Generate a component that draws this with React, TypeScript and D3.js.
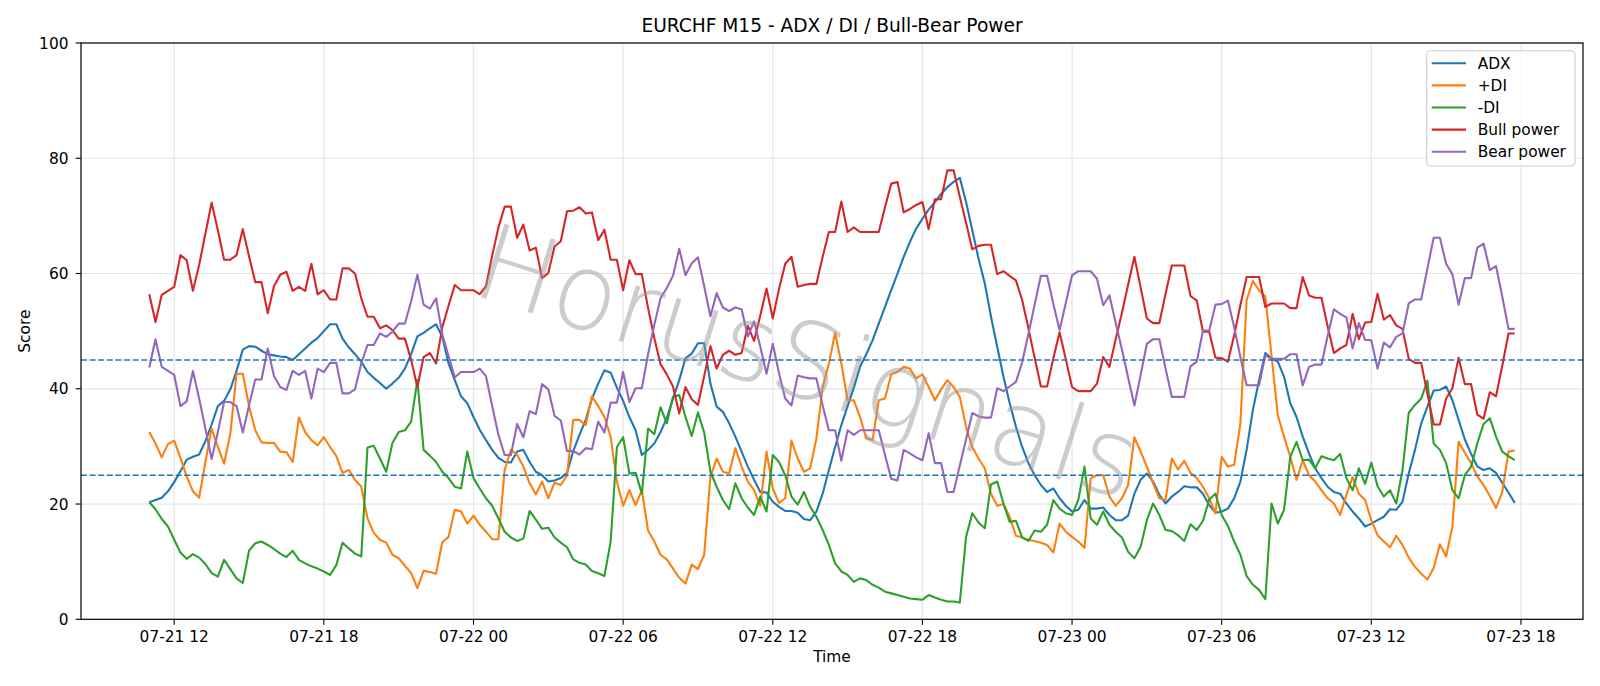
import React from 'react'
import * as d3 from 'd3'

// 15-minute bars, first bar 07-21 11:00
const START = Date.UTC(2025, 6, 21, 11, 0)
const STEP_MIN = 15

const ADX = [
  20.3, 20.7, 21.1, 22.2, 23.8, 25.7, 27.7, 28.2, 28.6, 30.9, 33.8, 37.0, 37.9, 39.9, 43.1, 46.8, 47.4, 47.3, 46.6, 46.0, 45.8, 45.6,
  45.5, 45.0, 46.0, 47.0, 48.0, 48.8, 50.0, 51.2, 51.2, 48.7, 47.2, 46.0, 44.7, 42.9, 41.9, 41.0, 40.0, 40.9, 41.9, 43.5, 46.0, 49.1, 49.7, 50.5, 51.2, 49.0, 44.4, 41.5, 38.7, 37.5, 35.1, 32.9, 31.1, 29.4, 28.0,
  27.3, 27.2, 29.1, 29.4, 27.3, 25.6, 25.0, 23.9, 24.1, 24.5, 25.4, 29.2, 32.0, 34.6, 38.3, 40.9, 43.2, 42.8, 40.2, 37.9, 35.1, 32.8, 28.5, 29.4, 30.5, 32.5, 34.9, 38.3, 41.5, 45.3, 46.1, 47.9, 47.9, 40.9, 36.9, 36.0,
  34.0, 31.7, 29.1, 26.5, 24.2, 22.1, 22.0, 20.4, 19.5, 18.8, 18.8, 18.5, 17.4, 17.2, 18.7, 21.8, 25.9, 29.9, 33.7, 37.0, 40.2, 43.8, 46.0, 48.4, 51.3, 54.2, 57.1, 60.0, 62.9, 65.5, 67.8, 69.5, 71.1, 72.4, 73.8, 75.0,
  75.9, 76.6, 72.4, 67.5, 62.6, 58.3, 52.5, 47.3, 42.1, 37.5, 33.4, 29.9, 27.1, 25.0, 23.3, 22.1, 22.7, 21.0, 19.7, 18.7, 19.0, 20.7, 19.2, 19.2, 19.4, 18.1, 17.2, 17.2, 18.0, 21.8, 24.2, 25.3, 23.9, 21.6, 20.1, 21.3,
  22.1, 23.1, 22.9, 22.9, 21.8, 19.8, 18.5, 18.7, 19.2, 21.0, 23.9, 29.4, 36.3, 41.5, 46.2, 45.3, 44.7, 42.1, 37.5, 35.1, 31.7, 28.8, 26.2, 24.5, 23.0, 22.1, 21.8, 20.1, 18.7, 17.5, 16.1, 16.6, 17.2, 17.8, 19.1, 19.0,
  20.4, 25.3, 29.4, 34.0, 36.9, 39.7, 39.8, 40.4, 38.0, 34.6, 31.2, 28.7, 26.5, 25.9, 26.2, 25.4, 23.7, 22.0, 20.2,
]

const PLUS_DI = [
  32.5, 30.5, 28.1, 30.4, 31.0, 28.0, 24.8, 22.2, 21.1, 27.3, 33.1, 29.9, 27.0, 32.2, 42.6, 42.6, 37.0, 32.8, 30.7, 30.6, 30.6, 29.1,
  29.0, 27.3, 35.0, 32.5, 31.1, 30.2, 31.6, 29.9, 28.3, 25.4, 25.9, 24.2, 23.0, 17.5, 15.0, 13.8, 13.3, 11.2, 10.6, 9.3, 8.0, 5.4, 8.4, 8.2, 7.9, 13.4, 14.3, 19.0, 18.7, 16.6, 18.0, 16.4, 15.2, 13.9, 13.9,
  25.9, 29.4, 28.5, 26.5, 23.6, 21.7, 23.9, 21.0, 23.7, 23.3, 25.0, 34.6, 34.6, 33.7, 38.7, 37.0, 35.1, 31.7, 23.9, 19.7, 22.4, 19.8, 22.4, 15.4, 13.5, 11.2, 10.4, 8.8, 7.2, 6.2, 9.5, 8.7, 11.2, 24.7, 27.9, 25.6,
  25.3, 29.7, 26.5, 23.9, 22.4, 19.7, 29.1, 22.7, 20.2, 21.0, 31.0, 27.9, 25.6, 26.2, 31.4, 40.3, 44.4, 49.7, 44.4, 38.0, 38.0, 35.1, 31.4, 31.1, 38.0, 38.3, 42.5, 42.9, 43.8, 43.5, 41.8, 42.5, 40.3, 38.0, 39.9, 41.5,
  40.3, 38.6, 33.4, 29.9, 27.9, 26.2, 21.8, 19.7, 20.0, 17.8, 14.5, 14.2, 13.8, 13.6, 13.3, 12.9, 11.6, 16.6, 15.2, 14.3, 13.5, 12.4, 24.5, 25.0, 25.0, 21.3, 19.7, 21.0, 23.3, 31.6, 29.1, 26.5, 23.6, 21.0, 20.7, 27.9,
  26.0, 27.5, 25.4, 24.5, 23.0, 21.0, 18.4, 28.2, 26.5, 26.8, 34.0, 55.4, 58.7, 57.1, 56.0, 45.7, 35.4, 31.7, 28.2, 24.2, 27.6, 25.0, 23.9, 22.4, 21.0, 20.1, 18.1, 21.6, 24.7, 21.8, 20.7, 17.2, 14.6, 13.5, 12.5, 14.5,
  12.9, 10.7, 9.1, 7.9, 6.9, 8.9, 13.0, 10.9, 16.1, 30.8, 28.9, 27.1, 24.8, 23.3, 21.4, 19.3, 22.1, 29.1, 29.3,
]

const MINUS_DI = [
  20.3, 19.1, 17.4, 16.1, 13.8, 11.6, 10.5, 11.3, 10.7, 9.6, 8.0, 7.4, 10.3, 8.7, 7.1, 6.3, 11.9, 13.2, 13.5, 12.9, 12.2, 11.4,
  10.8, 11.9, 10.3, 9.7, 9.2, 8.8, 8.3, 7.7, 9.4, 13.3, 12.3, 11.4, 10.9, 29.8, 30.1, 27.9, 25.6, 30.6, 32.5, 32.8, 34.3, 41.5, 29.4, 28.4, 27.3, 25.6, 24.5, 23.0, 22.7, 29.1, 24.5, 22.7, 21.0, 19.7, 17.5,
  15.2, 14.2, 13.6, 14.0, 18.8, 17.3, 15.7, 15.9, 14.2, 13.3, 12.5, 10.4, 9.8, 9.5, 8.4, 8.0, 7.5, 13.5, 29.9, 31.6, 25.3, 25.4, 21.8, 33.1, 32.1, 36.8, 34.0, 38.6, 38.9, 35.1, 31.8, 35.9, 32.4, 25.6, 23.0, 20.7,
  19.1, 23.6, 21.0, 19.4, 18.1, 21.3, 18.7, 28.5, 27.3, 25.0, 21.3, 19.9, 22.1, 19.5, 17.8, 15.5, 12.9, 9.7, 8.3, 7.7, 6.5, 7.1, 6.8, 6.0, 5.5, 4.8, 4.5, 4.2, 3.9, 3.6, 3.5, 3.4, 4.2, 3.8, 3.4, 3.1,
  3.1, 2.9, 14.3, 18.4, 16.8, 15.8, 23.4, 23.9, 20.1, 16.9, 17.1, 14.2, 13.6, 15.4, 15.2, 16.4, 20.7, 19.2, 18.4, 18.1, 20.7, 26.5, 17.5, 16.4, 18.7, 16.4, 15.2, 14.2, 11.7, 10.6, 12.6, 17.2, 20.1, 18.1, 15.5, 15.3,
  14.6, 13.6, 16.5, 15.5, 17.1, 20.8, 21.8, 18.1, 16.2, 13.5, 11.2, 7.5, 6.0, 5.1, 3.5, 20.1, 16.6, 19.0, 28.2, 30.8, 27.6, 27.7, 26.2, 28.3, 27.9, 27.6, 28.7, 24.5, 22.4, 26.2, 23.5, 27.2, 23.1, 21.3, 22.4, 20.1,
  25.9, 35.8, 37.2, 38.3, 41.4, 30.5, 29.4, 27.1, 22.4, 21.0, 25.0, 26.5, 30.5, 33.9, 34.9, 31.7, 29.1, 28.3, 27.6,
]

const BULL = [
  56.4, 51.6, 56.3, 57.0, 57.7, 63.2, 62.3, 57.0, 61.5, 66.9, 72.3, 67.5, 62.4, 62.4, 63.2, 67.7, 63.0, 58.5, 58.5, 53.1, 57.8, 59.8,
  60.3, 57.0, 57.7, 57.0, 61.7, 56.4, 57.1, 55.5, 55.5, 60.9, 60.9, 60.0, 55.7, 52.5, 52.5, 50.5, 51.0, 50.2, 48.7, 48.7, 45.0, 40.3, 45.5, 46.2, 44.4, 50.7, 54.4, 58.0, 57.1, 57.1, 57.1, 56.4, 57.8, 63.1, 68.0,
  71.6, 71.6, 66.2, 68.5, 64.0, 64.5, 59.2, 60.1, 64.7, 65.6, 70.8, 70.9, 71.5, 70.4, 70.6, 65.8, 67.6, 62.4, 62.4, 57.1, 62.3, 59.9, 59.9, 54.0, 48.8, 44.3, 42.5, 40.4, 35.7, 40.3, 38.2, 37.2, 42.2, 47.4, 43.5, 45.9,
  46.6, 45.9, 46.2, 50.9, 48.3, 52.7, 57.4, 52.2, 57.3, 61.7, 62.9, 57.7, 58.0, 58.2, 58.2, 62.9, 67.2, 67.2, 72.5, 67.2, 68.0, 67.2, 67.2, 67.2, 67.2, 71.5, 75.6, 75.9, 70.6, 71.2, 71.9, 72.4, 67.7, 72.9, 72.9, 77.9,
  77.9, 73.3, 68.8, 64.2, 64.8, 65.0, 65.0, 59.9, 60.4, 59.6, 58.8, 55.4, 50.5, 45.4, 40.4, 40.4, 45.3, 49.8, 45.1, 40.3, 39.6, 39.6, 39.6, 40.9, 45.5, 43.8, 48.6, 53.2, 58.1, 62.9, 57.6, 52.2, 51.4, 51.4, 56.5, 61.4,
  61.4, 61.4, 56.1, 55.3, 49.9, 49.9, 45.4, 45.3, 44.7, 49.3, 54.5, 59.4, 59.4, 59.4, 54.2, 54.8, 54.8, 54.8, 54.0, 54.0, 59.4, 56.2, 55.8, 55.8, 50.8, 46.2, 47.0, 47.6, 53.0, 48.6, 51.5, 51.6, 56.5, 52.0, 52.8, 51.0,
  50.4, 45.2, 44.5, 44.5, 39.1, 33.8, 33.8, 38.3, 40.1, 45.4, 40.8, 40.8, 35.5, 34.8, 39.4, 38.7, 44.0, 49.6, 49.6,
]

const BEAR = [
  43.7, 48.6, 43.8, 43.1, 42.4, 37.0, 37.8, 43.1, 38.3, 33.1, 27.8, 32.5, 37.7, 37.7, 37.0, 32.4, 37.1, 41.6, 41.6, 47.0, 42.2, 40.3,
  39.8, 43.1, 42.4, 43.1, 38.3, 43.5, 42.9, 44.5, 44.5, 39.2, 39.2, 39.9, 44.4, 47.6, 47.6, 49.6, 49.0, 49.9, 51.3, 51.3, 55.2, 59.8, 54.6, 53.9, 55.7, 49.4, 45.7, 42.0, 42.9, 42.9, 42.9, 43.5, 42.2, 37.0, 32.0,
  28.5, 28.5, 33.9, 31.6, 36.1, 35.6, 40.8, 39.9, 35.3, 34.5, 29.2, 29.2, 28.6, 29.7, 29.5, 34.3, 32.4, 37.6, 37.6, 42.9, 37.7, 40.1, 40.1, 46.0, 51.1, 55.7, 57.5, 59.6, 64.3, 59.7, 61.8, 62.8, 57.8, 52.6, 56.6, 54.1,
  53.5, 54.1, 53.8, 49.1, 51.7, 47.3, 42.6, 47.8, 42.7, 38.3, 37.1, 42.3, 42.0, 41.8, 41.8, 37.1, 32.8, 32.8, 27.5, 32.8, 32.0, 32.8, 32.8, 32.8, 32.8, 28.5, 24.4, 24.1, 29.4, 28.8, 28.1, 27.6, 32.3, 27.1, 27.1, 22.1,
  22.1, 26.7, 31.2, 35.8, 35.2, 35.0, 35.0, 40.1, 39.6, 40.4, 41.2, 44.6, 49.5, 54.6, 59.6, 59.6, 54.7, 50.2, 54.9, 59.7, 60.4, 60.4, 60.4, 59.1, 54.5, 56.2, 51.4, 46.8, 41.9, 37.1, 42.4, 47.8, 48.6, 48.6, 43.5, 38.6,
  38.6, 38.6, 43.9, 44.7, 50.1, 50.1, 54.6, 54.7, 55.3, 50.7, 45.5, 40.6, 40.6, 40.6, 45.8, 45.2, 45.2, 45.2, 46.0, 46.0, 40.6, 43.8, 44.2, 44.2, 49.2, 53.8, 53.0, 52.4, 47.0, 51.4, 48.5, 48.4, 43.5, 48.0, 47.2, 49.0,
  49.6, 54.8, 55.5, 55.5, 60.9, 66.2, 66.2, 61.7, 59.9, 54.6, 59.2, 59.2, 64.5, 65.2, 60.6, 61.3, 56.0, 50.4, 50.4,
]

const SERIES_NAMES = ['ADX', '+DI', '-DI', 'Bull power', 'Bear power']
const SERIES_COLORS = ['#1f77b4', '#ff7f0e', '#2ca02c', '#d62728', '#9467bd']
const LEVELS = [25, 45]
const Y_TICKS = [0, 20, 40, 60, 80, 100]

const W = 1600
const H = 686
const margin = { top: 43, right: 17, bottom: 66.7, left: 81 }
const FONT = 'DejaVu Sans, sans-serif'

export default function App() {
  const series = [ADX, PLUS_DI, MINUS_DI, BULL, BEAR]
  const times = ADX.map((_, i) => new Date(START + i * STEP_MIN * 60000))
  const t0 = +times[0]
  const t1 = +times[times.length - 1]
  const pad = (t1 - t0) * 0.05

  const x0 = margin.left
  const x1 = W - margin.right
  const yTop = margin.top
  const yBot = H - margin.bottom

  const x = d3.scaleUtc().domain([new Date(t0 - pad), new Date(t1 + pad)]).range([x0, x1])
  const y = d3.scaleLinear().domain([0, 100]).range([yBot, yTop])
  const xTicks = x.ticks(d3.utcHour.every(6))
  const fmt = d3.utcFormat('%m-%d %H')

  const line = d3
    .line<number>()
    .x((_, i) => x(times[i]))
    .y((d) => y(d))

  const legendX = 1426.7
  const legendY = 50.7

  return (
    <svg
      width={W}
      height={H}
      style={{ position: 'absolute', left: 0, top: 0, background: '#fff' }}
      fontFamily={FONT}
    >
      <rect x={0} y={0} width={W} height={H} fill="#fff" />

      {/* grid */}
      {xTicks.map((t) => (
        <line key={'gx' + +t} x1={x(t)} x2={x(t)} y1={yTop} y2={yBot} stroke="#e6e6e6" strokeWidth={1.2} />
      ))}
      {Y_TICKS.map((v) => (
        <line key={'gy' + v} x1={x0} x2={x1} y1={y(v)} y2={y(v)} stroke="#e6e6e6" strokeWidth={1.2} />
      ))}

      {/* series */}
      {series.map((vals, k) => (
        <path
          key={SERIES_NAMES[k]}
          d={line(vals) || ''}
          fill="none"
          stroke={SERIES_COLORS[k]}
          strokeWidth={2.1}
          strokeLinejoin="round"
        />
      ))}

      {/* threshold lines */}
      {LEVELS.map((v) => (
        <line
          key={'lv' + v}
          x1={x0}
          x2={x1}
          y1={y(v)}
          y2={y(v)}
          stroke="#1f77b4"
          strokeWidth={1.6}
          strokeDasharray="6,2.6"
        />
      ))}

      {/* watermark */}
      <text
        x={0}
        y={0}
        transform="translate(808,362) rotate(17.5)"
        textAnchor="middle"
        dominantBaseline="central"
        fontSize={106}
        fontWeight={200}
        fontFamily="'DejaVu Sans', Lato, sans-serif"
        fill="#9a9a9a"
        fillOpacity={0.5}
      >
        HorusSignals
      </text>

      {/* frame */}
      <rect x={x0} y={yTop} width={x1 - x0} height={yBot - yTop} fill="none" stroke="#000" strokeWidth={1.2} />

      {/* x axis */}
      {xTicks.map((t) => (
        <g key={'tx' + +t}>
          <line x1={x(t)} x2={x(t)} y1={yBot} y2={yBot + 5.4} stroke="#000" strokeWidth={1.1} />
          <text x={x(t)} y={642} textAnchor="middle" fontSize={15.4} fill="#000">
            {fmt(t)}
          </text>
        </g>
      ))}

      {/* y axis */}
      {Y_TICKS.map((v) => (
        <g key={'ty' + v}>
          <line x1={x0 - 5.4} x2={x0} y1={y(v)} y2={y(v)} stroke="#000" strokeWidth={1.1} />
          <text x={68.5} y={y(v)} dy="0.36em" textAnchor="end" fontSize={15.4} fill="#000">
            {v}
          </text>
        </g>
      ))}

      {/* labels */}
      <text x={(x0 + x1) / 2} y={32} textAnchor="middle" fontSize={18.6} fill="#000">
        EURCHF M15 - ADX / DI / Bull-Bear Power
      </text>
      <text x={(x0 + x1) / 2} y={661.5} textAnchor="middle" fontSize={15.4} fill="#000">
        Time
      </text>
      <text transform={`translate(30,${(yTop + yBot) / 2}) rotate(-90)`} textAnchor="middle" fontSize={15.4} fill="#000">
        Score
      </text>

      {/* legend */}
      <rect
        x={legendX}
        y={legendY}
        width={148.3}
        height={115.3}
        rx={4}
        fill="#fff"
        fillOpacity={0.8}
        stroke="#cccccc"
        strokeWidth={1.1}
      />
      {SERIES_NAMES.map((name, k) => {
        const ly = 63.3 + k * 22.1
        return (
          <g key={'lg' + name}>
            <line x1={1431.7} x2={1466} y1={ly} y2={ly} stroke={SERIES_COLORS[k]} strokeWidth={2.1} />
            <text x={1477.7} y={ly} dy="0.35em" fontSize={15.4} fill="#000">
              {name}
            </text>
          </g>
        )
      })}
    </svg>
  )
}
